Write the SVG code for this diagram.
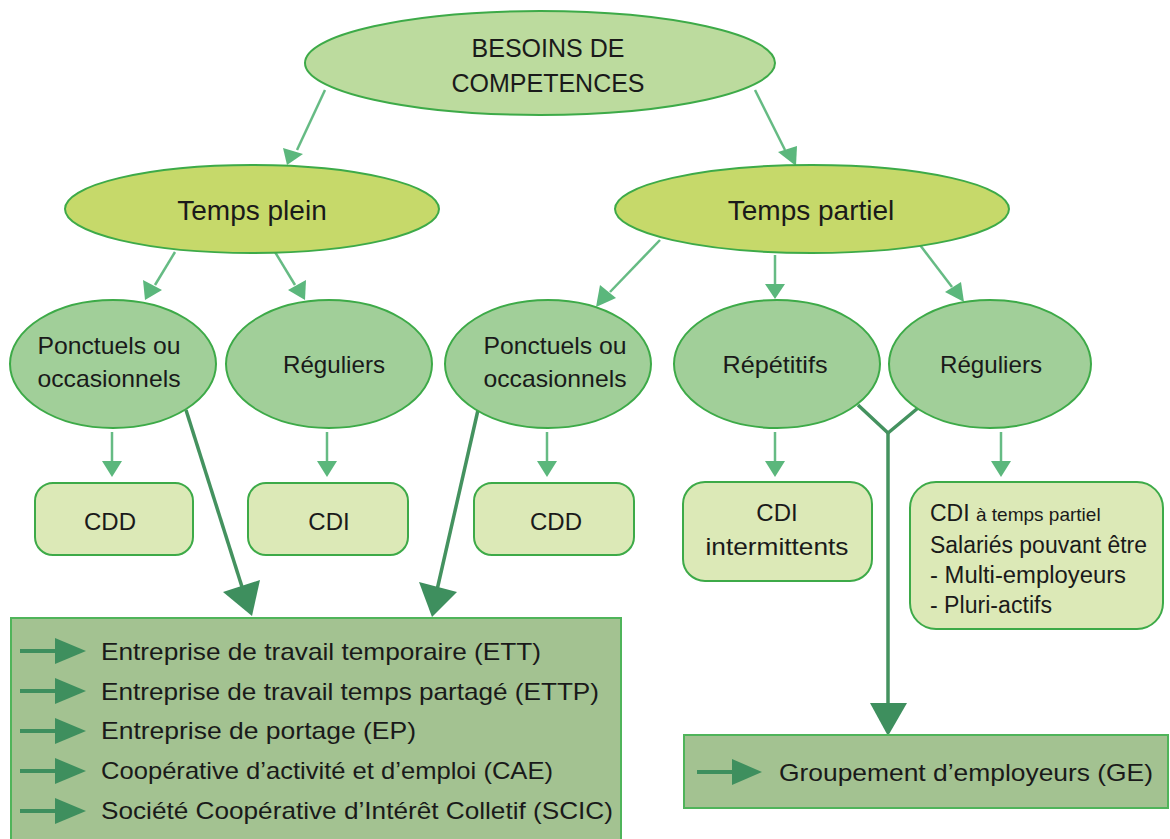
<svg xmlns="http://www.w3.org/2000/svg" width="1170" height="839" viewBox="0 0 1170 839">
<style>
text{font-family:"Liberation Sans",Arial,sans-serif;fill:#1a1a1a;text-anchor:middle}
.top{fill:#bcdb9e;stroke:#3daa48;stroke-width:2}
.mid{fill:#c6d96a;stroke:#3daa48;stroke-width:2}
.lvl{fill:#a1cf99;stroke:#3daa48;stroke-width:2}
.box{fill:#dce9b7;stroke:#3daa48;stroke-width:2}
.big{fill:#a3c291;stroke:#4fb45a;stroke-width:2}
.thin{stroke:#66bb84;stroke-width:2.5;fill:none}
.thick{stroke:#44925f;stroke-width:3.5;fill:none}
.head{fill:#5bb77c}
.bhead{fill:#3e8f5e}
.t25{font-size:25px}
.t28{font-size:28px}
.t24{font-size:24px}
.t23{font-size:23px;text-anchor:start}
.li{font-size:24px;text-anchor:start}
</style>
<g id="connectors">
<line class="thin" x1="325" y1="90" x2="297" y2="150"/>
<polygon class="head" points="283,148 303,154 287,165"/>
<line class="thin" x1="755" y1="90" x2="785" y2="150"/>
<polygon class="head" points="778,152 797,146 796,166"/>
<line class="thin" x1="175" y1="252" x2="155" y2="285"/>
<polygon class="head" points="143,280 162,290 145,300"/>
<line class="thin" x1="275" y1="252" x2="295" y2="285"/>
<polygon class="head" points="288,290 306,280 305,300"/>
<line class="thin" x1="660" y1="240" x2="610" y2="292"/>
<polygon class="head" points="600,285 616,298 596,307"/>
<line class="thin" x1="775" y1="255" x2="775" y2="285"/>
<polygon class="head" points="765,284 785,284 775,299"/>
<line class="thin" x1="920" y1="245" x2="952" y2="287"/>
<polygon class="head" points="945,292 961,282 964,302"/>
<line class="thin" x1="112" y1="432" x2="112" y2="462"/>
<polygon class="head" points="102,461 122,461 112,477"/>
<line class="thin" x1="327" y1="432" x2="327" y2="462"/>
<polygon class="head" points="317,461 337,461 327,477"/>
<line class="thin" x1="547" y1="432" x2="547" y2="462"/>
<polygon class="head" points="537,461 557,461 547,477"/>
<line class="thin" x1="775" y1="432" x2="775" y2="462"/>
<polygon class="head" points="765,461 785,461 775,477"/>
<line class="thin" x1="1001" y1="432" x2="1001" y2="462"/>
<polygon class="head" points="991,461 1011,461 1001,477"/>
<line class="thick" x1="186" y1="410" x2="243" y2="590"/>
<polygon class="bhead" points="223,592 260,580 252,616"/>
<line class="thick" x1="478" y1="410" x2="437" y2="590"/>
<polygon class="bhead" points="419,582 457,592 432,617"/>
<polyline class="thick" points="858,405 888,433 918,408"/>
<line class="thick" x1="888" y1="433" x2="888" y2="705"/>
<polygon class="bhead" points="870,703 907,703 888,736"/>
</g>
<g id="n-besoins">
<ellipse class="top" cx="540" cy="63" rx="235" ry="52"/>
<text class="t25" x="548" y="57">BESOINS DE</text>
<text class="t25" x="548" y="92">COMPETENCES</text>
</g>
<g id="n-temps-plein">
<ellipse class="mid" cx="252" cy="209" rx="187" ry="44"/>
<text class="t28" x="252" y="220">Temps plein</text>
</g>
<g id="n-temps-partiel">
<ellipse class="mid" cx="812" cy="209" rx="197" ry="44"/>
<text class="t28" x="811" y="220">Temps partiel</text>
</g>
<g id="n-ponctuels1">
<ellipse class="lvl" cx="113" cy="364" rx="103" ry="64"/>
<text class="t24" x="109" y="354" textLength="143" lengthAdjust="spacingAndGlyphs">Ponctuels ou</text>
<text class="t24" x="109" y="387" textLength="143" lengthAdjust="spacingAndGlyphs">occasionnels</text>
</g>
<g id="n-reguliers1">
<ellipse class="lvl" cx="329" cy="364" rx="103" ry="64"/>
<text class="t24" x="334" y="373" textLength="102" lengthAdjust="spacingAndGlyphs">Réguliers</text>
</g>
<g id="n-ponctuels2">
<ellipse class="lvl" cx="548" cy="364" rx="103" ry="64"/>
<text class="t24" x="555" y="354" textLength="143" lengthAdjust="spacingAndGlyphs">Ponctuels ou</text>
<text class="t24" x="555" y="387" textLength="143" lengthAdjust="spacingAndGlyphs">occasionnels</text>
</g>
<g id="n-repetitifs">
<ellipse class="lvl" cx="777" cy="364" rx="103" ry="64"/>
<text class="t24" x="775" y="373" textLength="105" lengthAdjust="spacingAndGlyphs">Répétitifs</text>
</g>
<g id="n-reguliers2">
<ellipse class="lvl" cx="990" cy="364" rx="101" ry="64"/>
<text class="t24" x="991" y="373" textLength="102" lengthAdjust="spacingAndGlyphs">Réguliers</text>
</g>
<g id="n-cdd1">
<rect class="box" x="35" y="483" width="158" height="72" rx="18"/>
<text class="t24" x="110" y="530">CDD</text>
</g>
<g id="n-cdi">
<rect class="box" x="248" y="483" width="160" height="72" rx="18"/>
<text class="t24" x="329" y="530">CDI</text>
</g>
<g id="n-cdd2">
<rect class="box" x="474" y="483" width="160" height="72" rx="18"/>
<text class="t24" x="556" y="530">CDD</text>
</g>
<g id="n-cdi-intermittents">
<rect class="box" x="683" y="482" width="189" height="99" rx="22"/>
<text class="t24" x="777" y="521">CDI</text>
<text class="t24" x="777" y="555" textLength="143" lengthAdjust="spacingAndGlyphs">intermittents</text>
</g>
<g id="n-cdi-partiel">
<rect class="box" x="910" y="482" width="253" height="147" rx="26"/>
<text class="t23" x="930" y="521">CDI <tspan font-size="19">à temps partiel</tspan></text>
<text class="t23" x="930" y="553" textLength="217" lengthAdjust="spacingAndGlyphs">Salariés pouvant être</text>
<text class="t23" x="930" y="583" textLength="196" lengthAdjust="spacingAndGlyphs">- Multi-employeurs</text>
<text class="t23" x="930" y="613" textLength="122" lengthAdjust="spacingAndGlyphs">- Pluri-actifs</text>
</g>
<g id="n-structures">
<rect class="big" x="11" y="618" width="610" height="230"/>
<g class="bhead">
<rect x="20" y="649" width="40" height="4"/><polygon points="55,638 86,651 55,664"/>
<rect x="20" y="689" width="40" height="4"/><polygon points="55,678 86,691 55,704"/>
<rect x="20" y="729" width="40" height="4"/><polygon points="55,718 86,731 55,744"/>
<rect x="20" y="769" width="40" height="4"/><polygon points="55,758 86,771 55,784"/>
<rect x="20" y="809" width="40" height="4"/><polygon points="55,798 86,811 55,824"/>
</g>
<text class="li" x="101" y="660" textLength="440" lengthAdjust="spacingAndGlyphs">Entreprise de travail temporaire (ETT)</text>
<text class="li" x="101" y="700" textLength="498" lengthAdjust="spacingAndGlyphs">Entreprise de travail temps partagé (ETTP)</text>
<text class="li" x="101" y="739" textLength="315" lengthAdjust="spacingAndGlyphs">Entreprise de portage (EP)</text>
<text class="li" x="101" y="779" textLength="452" lengthAdjust="spacingAndGlyphs">Coopérative d’activité et d’emploi (CAE)</text>
<text class="li" x="101" y="819" textLength="512" lengthAdjust="spacingAndGlyphs">Société Coopérative d’Intérêt Colletif (SCIC)</text>
</g>
<g id="n-ge">
<rect class="big" x="684" y="735" width="484" height="73"/>
<rect class="bhead" x="697" y="770" width="40" height="4"/><polygon class="bhead" points="732,759 762,772 732,785"/>
<text class="li" x="779" y="781" textLength="374" lengthAdjust="spacingAndGlyphs">Groupement d’employeurs (GE)</text>
</g>
</svg>
